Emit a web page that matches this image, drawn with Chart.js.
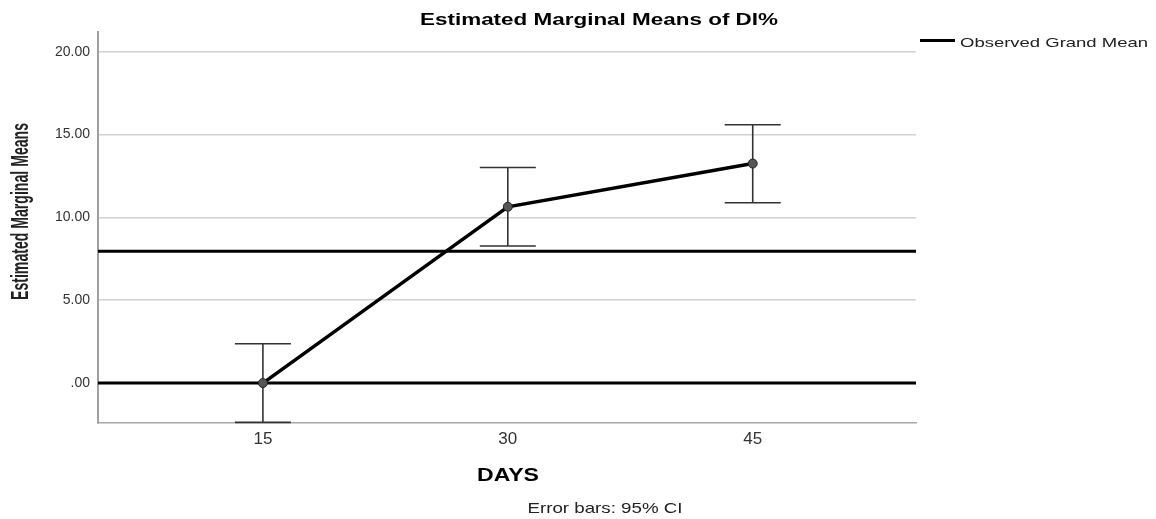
<!DOCTYPE html>
<html>
<head>
<meta charset="utf-8">
<title>Estimated Marginal Means of DI%</title>
<script src="https://cdn.jsdelivr.net/npm/chart.js@4.4.1/dist/chart.umd.min.js"></script>
<style>
  html, body { margin: 0; padding: 0; background: #fff; }
  #chart { display: block; }
</style>
</head>
<body>
<canvas id="chart" width="1156" height="519"></canvas>
<script>
// Данные графика: средние по дням и 95% доверительные интервалы
const days = [15, 30, 45];
const means = [0.00, 10.64, 13.25];
const ciLower = [-2.37, 8.27, 10.88];
const ciUpper = [2.37, 13.01, 15.59];
const grandMean = 7.96;   // Observed Grand Mean
const zeroLine = 0;       // опорная линия на нуле
const yTicks = [0, 5, 10, 15, 20];
const xRange = [4.9, 55.0];
const yRange = [-2.41, 21.19];

const FONT = '"Liberation Sans", Arial, sans-serif';

// текст, растянутый по ширине (как в исходной картинке)
function stretchText(ctx, text, x, y, font, width, rotate) {
  ctx.save();
  ctx.font = font;
  const natural = ctx.measureText(text).width;
  ctx.translate(x, y);
  if (rotate) ctx.rotate(-Math.PI / 2);
  ctx.scale(width / natural, 1);
  ctx.textAlign = 'center';
  ctx.textBaseline = 'alphabetic';
  ctx.fillText(text, 0, 0);
  ctx.restore();
}

// усы ошибок
const errorBars = {
  id: 'errorBars',
  beforeDatasetsDraw(chart) {
    const { ctx, scales: { x, y } } = chart;
    ctx.save();
    ctx.strokeStyle = '#333';
    ctx.lineWidth = 1.6;
    days.forEach((d, i) => {
      const px = x.getPixelForValue(d);
      const top = y.getPixelForValue(ciUpper[i]);
      const bot = y.getPixelForValue(ciLower[i]);
      ctx.beginPath();
      ctx.moveTo(px, top); ctx.lineTo(px, bot);
      ctx.moveTo(px - 28, top); ctx.lineTo(px + 28, top);
      ctx.moveTo(px - 28, bot); ctx.lineTo(px + 28, bot);
      ctx.stroke();
    });
    ctx.restore();
  }
};

// заголовки, легенда, подпись
const texts = {
  id: 'texts',
  afterDraw(chart) {
    const ctx = chart.ctx;
    ctx.save();
    ctx.fillStyle = '#000';
    stretchText(ctx, 'Estimated Marginal Means of DI%', 599, 25, 'bold 17px ' + FONT, 358);
    stretchText(ctx, 'DAYS', 508, 481, 'bold 19px ' + FONT, 62);
    ctx.fillStyle = '#222';
    stretchText(ctx, 'Estimated Marginal Means', 28, 211.5, 'bold 23px ' + FONT, 177, true);
    stretchText(ctx, 'Error bars: 95% CI', 605, 513, '15px ' + FONT, 155);
    // легенда
    ctx.strokeStyle = '#000';
    ctx.lineWidth = 3;
    ctx.beginPath();
    ctx.moveTo(920, 40.5); ctx.lineTo(955, 40.5);
    ctx.stroke();
    ctx.fillStyle = '#222';
    ctx.save();
    ctx.font = '13px ' + FONT;
    const w = ctx.measureText('Observed Grand Mean').width;
    ctx.translate(960, 47);
    ctx.scale(188 / w, 1);
    ctx.textAlign = 'left';
    ctx.fillText('Observed Grand Mean', 0, 0);
    ctx.restore();
    ctx.restore();
  }
};

const ctx = document.getElementById('chart');
new Chart(ctx, {
  type: 'line',
  data: {
    datasets: [
      {
        label: 'Means',
        data: days.map((d, i) => ({ x: d, y: means[i] })),
        borderColor: '#000',
        borderWidth: 3.5,
        pointRadius: 4.5,
        pointBackgroundColor: '#555',
        pointBorderColor: '#222',
        pointBorderWidth: 1,
        order: 1
      },
      {
        label: 'Observed Grand Mean',
        data: xRange.map(v => ({ x: v, y: grandMean })),
        borderColor: '#000',
        borderWidth: 3,
        pointRadius: 0,
        order: 2
      },
      {
        label: 'Zero',
        data: xRange.map(v => ({ x: v, y: zeroLine })),
        borderColor: '#000',
        borderWidth: 3,
        pointRadius: 0,
        order: 3
      }
    ]
  },
  options: {
    responsive: false,
    animation: false,
    layout: { padding: { top: 32, right: 240, left: 0, bottom: 0 } },
    plugins: {
      legend: { display: false },
      tooltip: { enabled: false },
      title: { display: false }
    },
    scales: {
      x: {
        type: 'linear',
        min: xRange[0],
        max: xRange[1],
        afterBuildTicks: s => { s.ticks = days.map(v => ({ value: v })); },
        afterFit: s => { s.height = 96; },
        grid: { display: false, drawTicks: false },
        border: { display: true, color: '#a8a8a8', width: 1.5 },
        ticks: {
          padding: 6,
          color: '#333',
          font: { family: FONT, size: 17 }
        }
      },
      y: {
        min: yRange[0],
        max: yRange[1],
        afterBuildTicks: s => { s.ticks = yTicks.map(v => ({ value: v })); },
        afterFit: s => { s.width = 98; },
        grid: { color: '#d2d2d2', lineWidth: 1.5, drawTicks: false },
        border: { display: true, color: '#a0a0a0', width: 2 },
        ticks: {
          padding: 8,
          color: '#333',
          font: { family: FONT, size: 14 },
          callback: v => v === 0 ? '.00' : v.toFixed(2)
        }
      }
    }
  },
  plugins: [errorBars, texts]
});
</script>
</body>
</html>
